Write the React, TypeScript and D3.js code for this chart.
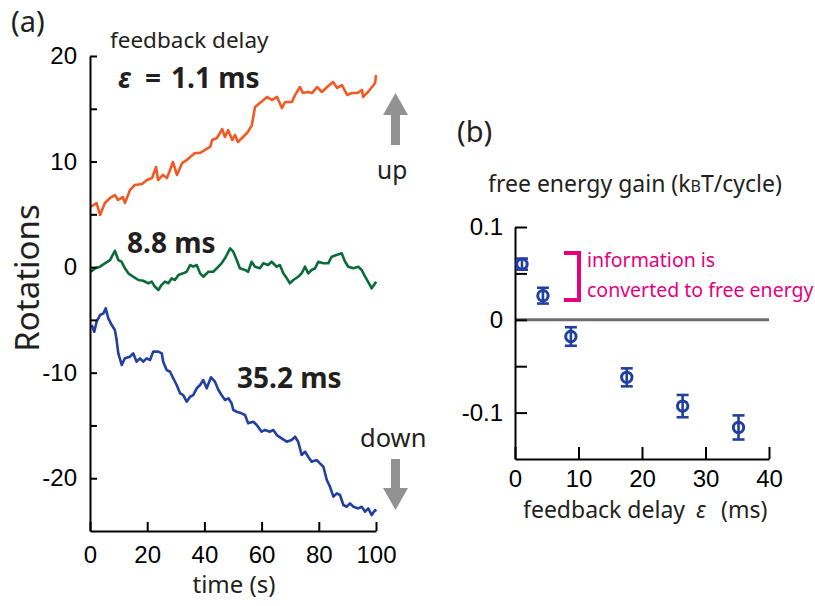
import React, { useEffect, useRef } from 'react'
import * as d3 from 'd3'

// (a) rotation traces, [time (s), rotations]
const trace1p1: [number, number][] = [
  [0.3, 5.72], [2.3, 6.07], [3.5, 4.94], [5.2, 6.07], [7.0, 6.55], [8.7, 6.83], [9.8, 6.36],
  [11.5, 6.64], [12.2, 6.07], [14.0, 7.31], [15.7, 7.78], [18.2, 7.87], [19.9, 8.25],
  [21.7, 8.44], [23.1, 9.48], [23.8, 8.25], [25.5, 8.73], [26.9, 8.44], [28.0, 9.2],
  [29.0, 9.96], [30.4, 8.73], [32.2, 9.86], [33.9, 10.15], [35.0, 10.43], [36.7, 10.81],
  [38.5, 10.81], [40.2, 11.1], [42.0, 11.38], [42.7, 12.04], [44.4, 12.23], [46.2, 13.08],
  [47.2, 12.33], [48.3, 12.99], [49.7, 12.04], [50.7, 12.52], [51.7, 11.85], [53.5, 12.33],
  [55.2, 12.8], [56.6, 13.46], [57.7, 15.17], [59.4, 15.55], [61.9, 16.12], [63.6, 15.83],
  [65.4, 16.12], [67.1, 15.07], [68.2, 15.64], [70.6, 15.64], [71.7, 16.31], [73.4, 17.06],
  [74.5, 16.49], [76.2, 16.59], [77.6, 16.49], [79.4, 17.06], [81.1, 16.59], [82.9, 17.06],
  [85.0, 17.54], [86.4, 16.97], [88.1, 17.25], [89.9, 16.31], [91.6, 16.49], [93.4, 16.49],
  [95.1, 16.78], [95.5, 16.12], [97.2, 16.59], [98.6, 17.06], [99.7, 17.44], [100, 18.2]
]

const trace8p8: [number, number][] = [
  [0.3, -0.44], [1.8, -0.11], [3.5, 0.04], [5.2, 0.36], [7.0, 0.67], [8.7, 1.55], [9.9, 0.67],
  [11.0, 0.51], [12.2, -0.11], [13.4, -0.59], [15.1, -0.91], [16.9, -1.22], [18.6, -1.29],
  [20.4, -1.53], [21.6, -1.38], [22.7, -1.86], [23.9, -2.17], [25.0, -1.7], [26.2, -1.38],
  [27.4, -1.53], [28.6, -1.06], [29.7, -1.22], [30.9, -0.75], [32.6, -0.59], [33.8, -0.44],
  [35.0, 0.2], [36.1, 0.04], [37.3, 0.2], [38.5, -0.59], [39.6, -0.91], [41.4, -0.44],
  [43.1, -0.44], [44.9, 0.04], [46.0, 0.36], [47.2, 0.83], [49.0, 1.78], [50.1, 1.46],
  [51.3, 0.67], [52.4, -0.11], [54.2, -0.27], [55.3, -0.44], [56.5, 0.51], [57.7, 0.04],
  [59.4, -0.11], [60.6, 0.36], [62.3, 0.2], [63.5, 0.51], [65.3, 0.04], [66.4, 0.2],
  [67.6, -0.59], [68.8, -1.06], [69.9, -1.53], [71.1, -1.22], [72.8, -0.91], [74.0, -0.59],
  [75.2, 0.04], [76.3, -0.59], [77.5, -0.27], [78.7, -0.11], [79.8, 0.51], [81.6, 0.36],
  [83.3, 0.36], [84.5, 0.99], [86.2, 1.15], [88.0, 1.31], [89.2, 0.51], [90.3, 0.04],
  [92.1, -0.11], [93.8, 0.04], [95.0, -0.27], [96.2, -0.91], [97.9, -1.7], [98.5, -2.01],
  [99.7, -1.53], [100, -1.38]
]

const trace35p2: [number, number][] = [
  [0.6, -5.49], [1.5, -6.12], [2.3, -5.17], [3.5, -4.54], [4.7, -4.38], [5.5, -3.9], [6.4, -4.85],
  [7.6, -5.49], [8.7, -5.96], [9.3, -6.91], [9.9, -8.17], [11.1, -9.27], [12.2, -8.64],
  [14.0, -8.49], [15.1, -8.17], [16.3, -8.96], [17.5, -8.64], [18.6, -8.96], [19.8, -8.64],
  [21.0, -8.8], [22.1, -8.01], [23.9, -8.01], [25.1, -8.17], [25.6, -8.96], [26.8, -9.75],
  [28.0, -9.91], [29.1, -10.53], [30.3, -11.17], [31.5, -11.96], [32.6, -12.12], [33.8, -12.75],
  [35.0, -12.28], [36.1, -12.12], [37.3, -11.48], [38.5, -11.17], [39.6, -10.7], [40.8, -11.48],
  [42.3, -10.44], [43.7, -10.86], [44.9, -11.64], [46.0, -12.12], [47.2, -12.59], [48.4, -12.43],
  [49.5, -12.9], [50.1, -13.54], [51.3, -13.7], [53.0, -13.85], [54.2, -14.01], [55.3, -14.8],
  [57.1, -14.65], [58.3, -14.96], [60.0, -15.59], [61.2, -15.43], [62.9, -15.59], [64.1, -15.43],
  [65.3, -15.91], [67.0, -16.22], [68.8, -16.54], [70.5, -16.38], [71.7, -16.07], [72.8, -16.54],
  [74.0, -17.8], [75.2, -17.49], [76.3, -17.96], [77.5, -18.43], [79.3, -18.28], [80.4, -18.59],
  [81.6, -18.91], [82.8, -20.17], [83.9, -20.8], [85.1, -21.75], [86.3, -21.43], [87.4, -21.59],
  [88.6, -22.54], [89.8, -22.7], [90.9, -22.38], [92.1, -22.7], [93.8, -22.86], [95.0, -22.7],
  [96.2, -23.17], [97.3, -22.86], [98.5, -23.49], [99.7, -23.02], [100, -23.17]
]

const timeTicks = [0, 20, 40, 60, 80, 100]
const rotTicks = [-20, -10, 0, 10, 20]
const rotMinor = [-15, -5, 5, 15]

// (b) free energy gain vs feedback delay
const delays = [1.1, 4.4, 8.8, 17.6, 26.4, 35.2]
const gains = [0.06, 0.026, -0.018, -0.062, -0.093, -0.116]
const gainErr = [0.006, 0.0085, 0.01, 0.0097, 0.012, 0.013]
const delayTicks = [0, 10, 20, 30, 40]
const gainTicks = [-0.1, 0, 0.1]
const gainMinor = [-0.05, 0.05]

const TICK_FONT = '"Liberation Sans", Arial, sans-serif'
const LABEL_FONT = '"Noto Sans", "Open Sans", sans-serif'
const INK = '#231f20'
const BLUE = '#2140a0'

export default function App() {
  const svgRef = useRef<SVGSVGElement>(null)

  useEffect(() => {
    if (!svgRef.current) return
    const svg = d3.select(svgRef.current)
    svg.selectAll('*').remove()

    // ---------- panel (a) ----------
    const xA = d3.scaleLinear().domain([0, 100]).range([90, 376])
    const yA = d3.scaleLinear().domain([-25, 20]).range([531, 56])

    const traces = [
      { data: trace1p1, color: '#f15a24' },
      { data: trace8p8, color: '#0b6b3a' },
      { data: trace35p2, color: BLUE }
    ]
    const line = d3.line<[number, number]>()
      .x(d => xA(d[0]))
      .y(d => yA(d[1]))

    svg.append('g').selectAll('path')
      .data(traces)
      .enter().append('path')
      .attr('d', d => line(d.data))
      .attr('fill', 'none')
      .attr('stroke', d => d.color)
      .attr('stroke-width', 2.6)
      .attr('stroke-linejoin', 'round')

    const fmt = (d: any) => String(d)

    const axA_y = svg.append('g')
      .attr('transform', `translate(${xA(0)},0)`)
      .call(d3.axisLeft(yA).tickValues(rotTicks).tickSizeInner(-7).tickSizeOuter(0).tickPadding(13).tickFormat(fmt))
    svg.append('g')
      .attr('transform', `translate(${xA(0)},0)`)
      .call(d3.axisLeft(yA).tickValues(rotMinor).tickSizeInner(-7).tickSizeOuter(0).tickFormat(() => ''))
      .select('.domain').remove()

    const axA_x = svg.append('g')
      .attr('transform', `translate(0,${yA(-25)})`)
      .call(d3.axisBottom(xA).tickValues(timeTicks).tickSizeInner(-9).tickSizeOuter(0).tickPadding(15).tickFormat(fmt))

    // ---------- panel (b) ----------
    const xB = d3.scaleLinear().domain([0, 40]).range([515, 769])
    const yB = d3.scaleLinear().domain([-0.15, 0.1]).range([459, 227])

    svg.append('line')
      .attr('x1', xB(0)).attr('x2', xB(40))
      .attr('y1', yB(0)).attr('y2', yB(0))
      .attr('stroke', '#6d6d6d')
      .attr('stroke-width', 3)

    const axB_y = svg.append('g')
      .attr('transform', `translate(${xB(0)},0)`)
      .call(d3.axisLeft(yB).tickValues(gainTicks).tickSizeInner(-12).tickSizeOuter(0).tickPadding(12).tickFormat(fmt))
    svg.append('g')
      .attr('transform', `translate(${xB(0)},0)`)
      .call(d3.axisLeft(yB).tickValues(gainMinor).tickSizeInner(-12).tickSizeOuter(0).tickFormat(() => ''))
      .select('.domain').remove()

    const axB_x = svg.append('g')
      .attr('transform', `translate(0,${yB(-0.15)})`)
      .call(d3.axisBottom(xB).tickValues(delayTicks).tickSizeInner(-12).tickSizeOuter(0).tickPadding(11).tickFormat(fmt))

    for (const ax of [axA_y, axA_x, axB_y, axB_x]) {
      ax.selectAll('text')
        .style('font-size', '24px')
        .style('font-family', TICK_FONT)
        .attr('fill', '#000')
    }
    svg.selectAll('.domain, .tick line')
      .attr('stroke', '#000')
      .attr('stroke-width', 2)

    // points with error bars
    const pts = delays.map((d, i) => ({ x: d, y: gains[i], e: gainErr[i] }))
    const pg = svg.append('g').selectAll('g').data(pts).enter().append('g')
    pg.append('circle')
      .attr('cx', d => xB(d.x)).attr('cy', d => yB(d.y))
      .attr('r', 5.2)
      .attr('fill', 'none')
      .attr('stroke', BLUE)
      .attr('stroke-width', 3)
    pg.append('line')
      .attr('x1', d => xB(d.x)).attr('x2', d => xB(d.x))
      .attr('y1', d => yB(d.y + d.e)).attr('y2', d => yB(d.y - d.e))
    pg.append('line')
      .attr('x1', d => xB(d.x) - 6).attr('x2', d => xB(d.x) + 6)
      .attr('y1', d => yB(d.y + d.e)).attr('y2', d => yB(d.y + d.e))
    pg.append('line')
      .attr('x1', d => xB(d.x) - 6).attr('x2', d => xB(d.x) + 6)
      .attr('y1', d => yB(d.y - d.e)).attr('y2', d => yB(d.y - d.e))
    pg.selectAll('line').attr('stroke', BLUE).attr('stroke-width', 2.6)
  }, [])

  return (
    <div style={{ position: 'absolute', left: 0, top: 0 }}>
      <svg ref={svgRef} width={815} height={606} style={{ display: 'block', background: '#fff' }} />
      <svg width={815} height={606} style={{ position: 'absolute', left: 0, top: 0 }} fontFamily={LABEL_FONT} fill={INK}>
        <text x={11} y={32} fontSize={29}>(a)</text>
        <text x={110} y={48} fontSize={22.5}>feedback delay</text>
        <text y={88} fontSize={28} fontWeight="bold">
          <tspan x={118} fontStyle="italic">ε</tspan>
          <tspan x={145}>=</tspan>
          <tspan x={171}>1.1 ms</tspan>
        </text>
        <text x={127} y={253} fontSize={28} fontWeight="bold">8.8 ms</text>
        <text x={237} y={388} fontSize={28} fontWeight="bold">35.2 ms</text>
        <text transform="translate(39,278) rotate(-90)" textAnchor="middle" fontSize={33}>Rotations</text>
        <text x={234} y={593} textAnchor="middle" fontSize={24}>time (s)</text>
        <text x={377} y={179} fontSize={24.5}>up</text>
        <text x={360} y={447} fontSize={25.5}>down</text>
        <path d="M395.5,93 L408,115 L400,115 L400,145 L391,145 L391,115 L383,115 Z" fill="#929292" />
        <path d="M391,459 L400,459 L400,488 L408,488 L395.5,510 L383,488 L391,488 Z" fill="#929292" />

        <text x={457} y={142} fontSize={29}>(b)</text>
        <text x={488} y={192} fontSize={23}>
          free energy gain (k<tspan fontSize={16}>B</tspan>T/cycle)
        </text>
        <text x={523} y={518} fontSize={23}>feedback delay</text>
        <text x={696} y={518} fontSize={23} fontStyle="italic">ε</text>
        <text x={721} y={518} fontSize={23}>(ms)</text>
        <path d="M564,253 L579,253 L579,300 L564,300" fill="none" stroke="#e4007f" strokeWidth={4} />
        <text x={587} y={267} fontSize={19.5} fill="#e4007f">information is</text>
        <text x={587} y={297} fontSize={19.5} fill="#e4007f">converted to free energy</text>
      </svg>
    </div>
  )
}
